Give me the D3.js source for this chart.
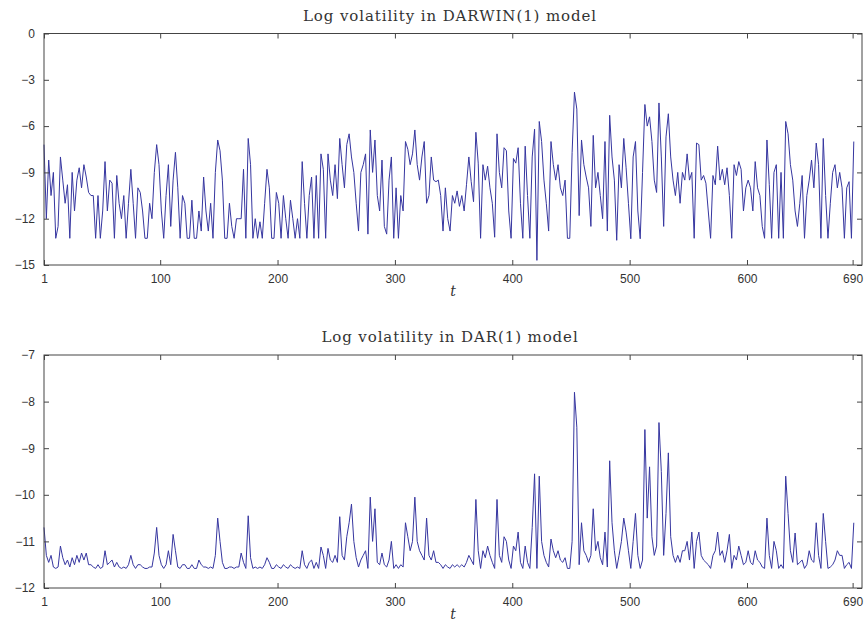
<!DOCTYPE html>
<html>
<head>
<meta charset="utf-8">
<script src="https://cdn.jsdelivr.net/npm/d3@7"></script>
<style>
  html, body { margin: 0; padding: 0; background: #fff; }
  .tick text { font-family: "Liberation Sans", Arial, sans-serif; font-size: 12px; fill: #333; }
  .title { font-family: "DejaVu Serif", serif; font-size: 15px; letter-spacing: 0.9px; fill: #333; }
  .xlab { font-family: "DejaVu Serif", serif; font-style: italic; font-size: 14px; fill: #333; }
</style>
</head>
<body>
<svg id="chart" width="865" height="625"></svg>
<script>
const tGrid = d3.range(1, 692, 2);

const xTicks = [1, 100, 200, 300, 400, 500, 600, 690];
const darwinTicks = [0, -3, -6, -9, -12, -15];
const darTicks = [-7, -8, -9, -10, -11, -12];

const darwinTitle = 'Log volatility in DARWIN(1) model';
const darTitle = 'Log volatility in DAR(1) model';

// log volatility, DARWIN(1)
const darwinVol = [
  -7.2, -12.0, -8.2, -10.5, -9.0, -13.27, -12.5, -8.0, -9.5, -11.0,
  -9.8, -13.27, -9.0, -11.5, -9.5, -8.7, -10.0, -8.5, -9.3, -10.3,
  -10.5, -10.5, -13.27, -10.5, -13.27, -11.5, -8.3, -11.5, -9.5, -9.7,
  -13.27, -9.2, -11.0, -12.0, -10.5, -13.27, -11.0, -8.8, -11.0, -13.27,
  -10.0, -10.3, -11.5, -13.27, -13.27, -11.0, -12.0, -9.0, -7.2, -8.5,
  -11.5, -13.27, -10.5, -8.5, -12.5, -9.5, -7.7, -10.0, -13.27, -10.5,
  -11.0, -13.27, -13.27, -10.8, -13.27, -13.27, -11.5, -12.8, -9.3, -11.5,
  -12.8, -11.0, -13.27, -9.0, -6.9, -7.6, -9.5, -13.27, -13.27, -11.0,
  -12.5, -13.27, -12.0, -12.0, -12.0, -8.8, -13.27, -6.8, -8.5, -13.27,
  -12.0, -13.27, -12.2, -13.27, -11.0, -8.8, -10.0, -13.27, -13.27, -10.3,
  -11.0, -13.27, -10.5, -12.0, -13.27, -10.8, -12.0, -13.27, -12.0, -13.27,
  -8.3, -11.0, -13.27, -10.5, -9.3, -13.27, -9.2, -13.27, -7.8, -8.8,
  -13.27, -7.8, -9.5, -10.5, -8.5, -10.7, -6.8, -8.5, -10.0, -7.2,
  -6.5, -8.0, -9.0, -11.0, -12.8, -9.0, -8.5, -7.8, -13.0, -6.25,
  -9.0, -6.9, -10.5, -11.5, -8.2, -12.5, -13.0, -9.5, -8.0, -13.27,
  -10.0, -13.27, -10.5, -11.5, -7.0, -7.5, -8.5, -7.8, -6.25, -8.5,
  -9.5, -8.0, -7.0, -11.0, -10.5, -8.0, -9.5, -9.6, -9.5, -10.5,
  -12.8, -10.0, -12.0, -12.8, -10.5, -11.0, -10.2, -11.2, -10.5, -11.5,
  -9.8, -8.0, -9.6, -10.9, -6.4, -8.4, -13.27, -8.5, -9.5, -8.6,
  -10.0, -11.0, -13.2, -6.5, -9.0, -10.0, -7.4, -7.6, -11.5, -13.27,
  -8.1, -8.4, -7.4, -11.0, -13.27, -7.3, -10.5, -13.27, -8.0, -6.2,
  -14.7, -5.7, -7.0, -9.5, -11.0, -12.8, -7.0, -8.5, -9.5, -8.5,
  -10.0, -10.5, -9.5, -13.27, -13.27, -7.7, -3.8, -4.9, -11.8, -6.9,
  -8.5, -9.3, -10.0, -12.5, -6.6, -10.0, -9.0, -10.5, -12.0, -7.0,
  -12.8, -5.3, -8.0, -9.5, -13.4, -8.5, -10.0, -6.8, -8.7, -11.0,
  -13.3, -8.0, -7.0, -11.5, -13.3, -9.0, -4.6, -6.0, -5.4, -7.0,
  -9.5, -10.3, -4.5, -8.0, -12.5, -6.7, -5.2, -8.0, -9.5, -10.5,
  -9.0, -11.0, -9.0, -9.5, -7.8, -9.5, -9.0, -13.27, -7.1, -7.2,
  -9.5, -9.2, -9.7, -11.5, -13.27, -9.2, -9.8, -7.3, -9.5, -8.8,
  -9.8, -8.7, -10.5, -13.27, -8.5, -9.2, -8.3, -8.8, -11.5, -10.0,
  -9.5, -10.0, -11.5, -8.3, -10.0, -10.5, -12.5, -13.27, -6.9, -9.8,
  -13.27, -9.0, -8.5, -13.27, -9.0, -13.27, -5.7, -6.5, -8.5, -9.5,
  -11.5, -12.5, -11.0, -9.2, -13.27, -10.5, -9.5, -8.2, -10.0, -7.1,
  -8.5, -13.27, -6.8, -10.5, -13.27, -11.0, -9.0, -8.5, -10.0, -9.0,
  -10.0, -13.27, -10.0, -9.6, -13.27, -7.0
];

// log volatility, DAR(1)
const darVol = [
  -10.7, -11.3, -11.45, -11.3, -11.55, -11.58, -11.55, -11.1, -11.35, -11.5,
  -11.4, -11.55, -11.35, -11.5, -11.3, -11.45, -11.25, -11.4, -11.25, -11.5,
  -11.5, -11.55, -11.58, -11.5, -11.58, -11.55, -11.2, -11.5, -11.45, -11.4,
  -11.55, -11.45, -11.55, -11.58, -11.55, -11.58, -11.5, -11.3, -11.5, -11.58,
  -11.5, -11.5, -11.55, -11.58, -11.58, -11.55, -11.55, -11.25, -10.7, -11.3,
  -11.5, -11.58, -11.5, -11.2, -11.5, -10.85, -11.2, -11.55, -11.58, -11.5,
  -11.5, -11.58, -11.58, -11.5, -11.58, -11.58, -11.4, -11.5, -11.55, -11.55,
  -11.58, -11.55, -11.58, -11.3, -10.5, -11.0, -11.45, -11.58, -11.58, -11.55,
  -11.55, -11.58, -11.55, -11.55, -11.25, -11.45, -11.58, -10.45, -11.35, -11.58,
  -11.55, -11.58, -11.55, -11.58, -11.5, -11.35, -11.45, -11.58, -11.58, -11.5,
  -11.55, -11.58, -11.5, -11.55, -11.58, -11.5, -11.55, -11.58, -11.55, -11.58,
  -11.2, -11.5, -11.58, -11.45, -11.4, -11.58, -11.45, -11.58, -11.12, -11.3,
  -11.58, -11.15, -11.4, -11.45, -11.3, -11.45, -10.47, -11.3, -11.4, -10.9,
  -10.6, -10.2, -11.0, -11.35, -11.55, -11.4, -11.3, -11.2, -11.58, -10.05,
  -11.0, -10.3, -11.45, -11.5, -11.25, -11.5, -11.55, -11.4, -11.0, -11.58,
  -11.5, -11.58, -11.5, -11.55, -10.6, -10.9, -11.2, -11.0, -10.05, -11.0,
  -11.2, -11.3, -11.4, -10.5, -11.3, -11.4, -11.2, -11.45, -11.45, -11.5,
  -11.58, -11.5, -11.55, -11.58, -11.5, -11.55, -11.5, -11.55, -11.5, -11.55,
  -11.45, -11.3, -11.4, -11.5, -10.1, -11.2, -11.58, -11.2, -11.35, -11.1,
  -11.3, -11.45, -11.58, -10.1, -11.3, -11.45, -10.9, -11.0, -11.4, -11.58,
  -11.1, -11.2, -10.8, -11.45, -11.58, -11.1, -11.45, -11.58, -10.7, -9.55,
  -11.58, -9.6, -11.0, -11.3, -11.45, -11.55, -10.95, -11.2, -11.35, -11.2,
  -11.4, -11.45, -11.35, -11.58, -11.58, -11.0, -7.8, -8.55, -11.5, -10.6,
  -11.2, -11.3, -11.45, -11.3, -10.3, -11.2, -11.0, -11.35, -11.5, -10.8,
  -11.55, -9.27, -10.6, -11.2, -11.58, -11.3, -11.0, -10.5, -10.8, -11.2,
  -11.58, -11.0, -10.4, -11.3, -11.58, -11.4, -8.6, -10.5, -9.4, -10.9,
  -11.3, -11.1, -8.45, -9.5, -11.3, -10.4, -9.1, -10.9, -11.3, -11.45,
  -11.3, -11.45, -11.2, -11.2, -11.0, -11.4, -10.8, -11.58, -11.0, -10.8,
  -11.3, -11.4, -11.45, -11.5, -11.58, -11.3, -11.2, -10.8, -11.3, -11.2,
  -11.45, -11.2, -10.85, -11.58, -11.3, -11.4, -11.1, -11.3, -11.5, -11.45,
  -11.2, -11.45, -11.5, -11.2, -11.4, -11.45, -11.55, -11.58, -10.5, -11.3,
  -11.58, -11.0, -11.2, -11.58, -11.5, -11.58, -9.6, -10.4, -11.2, -11.45,
  -10.82, -11.5, -11.45, -11.4, -11.58, -11.5, -11.2, -11.4, -11.45, -10.6,
  -11.3, -11.58, -10.4, -11.0, -11.58, -11.55, -11.5, -11.4, -11.2, -11.3,
  -11.3, -11.58, -11.5, -11.45, -11.58, -10.6
];

const svg = d3.select('#chart');
const left = 44, right = 862;
const x = d3.scaleLinear().domain([1, 698]).range([left, right]);
const fmt = d => d < 0 ? '\u2212' + Math.abs(d) : String(d);

function panel(top, bottom, yDomain, yTicks, values, title) {
  const y = d3.scaleLinear().domain(yDomain).range([bottom, top]);
  const g = svg.append('g');

  const line = d3.line().x((d, i) => x(tGrid[i])).y(d => y(d));
  g.append('path')
    .datum(values)
    .attr('d', line)
    .attr('fill', 'none')
    .attr('stroke', '#3636a0')
    .attr('stroke-width', 1)
    .attr('stroke-linejoin', 'round');

  // axes with inward ticks, mirrored on all four sides
  const axB = g.append('g').attr('transform', `translate(0,${bottom})`)
    .call(d3.axisBottom(x).tickValues(xTicks).tickSize(-5).tickPadding(9).tickFormat(d3.format('d')));
  const axT = g.append('g').attr('transform', `translate(0,${top})`)
    .call(d3.axisTop(x).tickValues(xTicks).tickSize(-5).tickFormat(''));
  const axL = g.append('g').attr('transform', `translate(${left},0)`)
    .call(d3.axisLeft(y).tickValues(yTicks).tickSize(-5).tickPadding(9).tickFormat(fmt));
  const axR = g.append('g').attr('transform', `translate(${right},0)`)
    .call(d3.axisRight(y).tickValues(yTicks).tickSize(-5).tickFormat(''));
  [axB, axT, axL, axR].forEach(a => {
    a.select('.domain').remove();
    a.selectAll('.tick line').attr('stroke', '#444');
  });

  g.append('rect')
    .attr('x', left).attr('y', top)
    .attr('width', right - left).attr('height', bottom - top)
    .attr('fill', 'none').attr('stroke', '#444').attr('stroke-width', 1);

  g.append('text').attr('class', 'title')
    .attr('x', (left + right) / 2 - 3).attr('y', top - 13)
    .attr('text-anchor', 'middle').text(title);

  g.append('text').attr('class', 'xlab')
    .attr('x', (left + right) / 2).attr('y', bottom + 31)
    .attr('text-anchor', 'middle').text('t');
}

panel(33.5, 265, [-15, 0], darwinTicks, darwinVol, darwinTitle);
panel(355, 588, [-12, -7], darTicks, darVol, darTitle);
</script>
</body>
</html>
